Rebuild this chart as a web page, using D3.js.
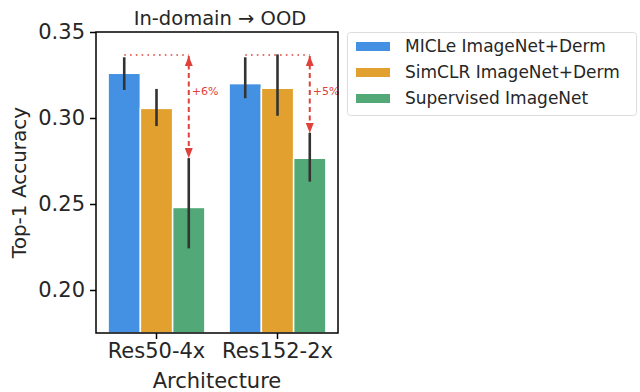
<!DOCTYPE html>
<html>
<head>
<meta charset="utf-8">
<script src="https://cdn.jsdelivr.net/npm/d3@7"></script>
<style>
  body { margin: 0; background: #fff; }
  svg text { font-family: "DejaVu Sans", sans-serif; fill: #262626; }
</style>
</head>
<body>
<svg id="chart" width="640" height="392"></svg>
<script>
// chart data
var architectures = ["Res50-4x", "Res152-2x"]
var methods = ["MICLe ImageNet+Derm", "SimCLR ImageNet+Derm", "Supervised ImageNet"]
var colors = ["#4490e3", "#e2a12f", "#52a877"]

// mean accuracy, [method][architecture]
var accuracy = [
    [0.326, 0.320],
    [0.3056, 0.3173],
    [0.248, 0.2766]
]
// error bar ends
var errLow = [
    [0.3163, 0.3115],
    [0.2953, 0.3013],
    [0.2242, 0.263]
]
var errHigh = [
    [0.3353, 0.3353],
    [0.3169, 0.337],
    [0.2767, 0.2913]
]
// gain annotations
var gainLabels = ["+6%", "+5%"]
var gainTop = [0.3366, 0.3366]
var yTicks = [0.20, 0.25, 0.30, 0.35]

var svg = d3.select("#chart")
var plotLeft = 96, plotRight = 338, plotTop = 32, plotBottom = 333

var x = d3.scaleBand().domain(architectures).range([plotLeft, plotRight])
    .paddingInner(0.2).paddingOuter(0.1)
var xInner = d3.scaleBand().domain(d3.range(methods.length)).range([0, x.bandwidth()])
var y = d3.scaleLinear().domain([0.175, 0.35]).range([plotBottom, plotTop])

// bars
for (var m = 0; m < methods.length; m++) {
    for (var a = 0; a < architectures.length; a++) {
        svg.append("rect")
            .attr("x", x(architectures[a]) + xInner(m))
            .attr("y", y(accuracy[m][a]))
            .attr("width", xInner.bandwidth())
            .attr("height", y(0.175) - y(accuracy[m][a]))
            .attr("fill", colors[m])
            .attr("stroke", "#fff")
            .attr("stroke-width", 1.5)
    }
}

// error bars
for (var m = 0; m < methods.length; m++) {
    for (var a = 0; a < architectures.length; a++) {
        var cx = x(architectures[a]) + xInner(m) + xInner.bandwidth() / 2
        svg.append("line")
            .attr("x1", cx).attr("x2", cx)
            .attr("y1", y(errLow[m][a])).attr("y2", y(errHigh[m][a]))
            .attr("stroke", "#333").attr("stroke-width", 2.6)
    }
}

// gain annotations
var red = "#e0413a"
var defs = svg.append("defs")
defs.append("marker").attr("id", "head")
    .attr("viewBox", "0 0 10 8").attr("refX", 10).attr("refY", 4)
    .attr("markerWidth", 5).attr("markerHeight", 4)
    .attr("markerUnits", "strokeWidth")
    .attr("orient", "auto-start-reverse")
    .append("path").attr("d", "M0,0 L10,4 L0,8 z").attr("fill", red)

for (var a = 0; a < architectures.length; a++) {
    var x0 = x(architectures[a]) + xInner(0) + xInner.bandwidth() / 2
    var x2 = x(architectures[a]) + xInner(2) + xInner.bandwidth() / 2
    svg.append("line")
        .attr("x1", x0).attr("x2", x2)
        .attr("y1", y(gainTop[a])).attr("y2", y(gainTop[a]))
        .attr("stroke", red).attr("stroke-width", 1.6)
        .attr("stroke-dasharray", "1.6,4.2")
    svg.append("line")
        .attr("x1", x2).attr("x2", x2)
        .attr("y1", y(gainTop[a]) + 1).attr("y2", y(errHigh[2][a]))
        .attr("stroke", red).attr("stroke-width", 2)
        .attr("stroke-dasharray", "5,3.5")
        .attr("marker-start", "url(#head)")
        .attr("marker-end", "url(#head)")
    svg.append("text")
        .attr("x", x2 + 3).attr("y", y(0.3155))
        .attr("dy", "0.35em")
        .style("font-size", "11px").style("fill", red)
        .text(gainLabels[a])
}

// frame
svg.append("rect")
    .attr("x", plotLeft).attr("y", plotTop)
    .attr("width", plotRight - plotLeft).attr("height", plotBottom - plotTop)
    .attr("fill", "none").attr("stroke", "#000").attr("stroke-width", 1.5)

// axes
var yAxis = svg.append("g").attr("transform", "translate(" + plotLeft + ",0)")
    .call(d3.axisLeft(y).tickValues(yTicks).tickFormat(d3.format(".2f")).tickSize(6).tickPadding(5))
var xAxis = svg.append("g").attr("transform", "translate(0," + plotBottom + ")")
    .call(d3.axisBottom(x).tickSize(6).tickPadding(4))
;[yAxis, xAxis].forEach(function(g) {
    g.select(".domain").remove()
    g.selectAll(".tick line").attr("stroke", "#000").attr("stroke-width", 1.5)
    g.selectAll(".tick text").style("font-size", "21px").attr("fill", "#262626")
        .style("font-family", "DejaVu Sans, sans-serif")
})

// labels
svg.append("text").attr("x", (plotLeft + plotRight) / 2).attr("y", 388)
    .attr("text-anchor", "middle").style("font-size", "21px").text("Architecture")
svg.append("text").attr("transform", "translate(26," + ((plotTop + plotBottom) / 2) + ") rotate(-90)")
    .attr("text-anchor", "middle").style("font-size", "20px").text("Top-1 Accuracy")
svg.append("text").attr("x", 220).attr("y", 25)
    .attr("text-anchor", "middle").style("font-size", "19.5px").text("In-domain \u2192 OOD")

// legend
var legend = svg.append("g")
legend.append("rect").attr("x", 347.5).attr("y", 32.5).attr("width", 289).attr("height", 83)
    .attr("rx", 3).attr("fill", "#fff").attr("stroke", "#dcdcdc").attr("stroke-width", 1)
methods.forEach(function(name, i) {
    var ly = 46.5 + i * 26
    legend.append("rect").attr("x", 356).attr("y", ly - 4.5).attr("width", 34).attr("height", 9)
        .attr("fill", colors[i])
    legend.append("text").attr("x", 405).attr("y", ly).attr("dy", "0.35em")
        .style("font-size", "17px").text(name)
})
</script>
</body>
</html>
